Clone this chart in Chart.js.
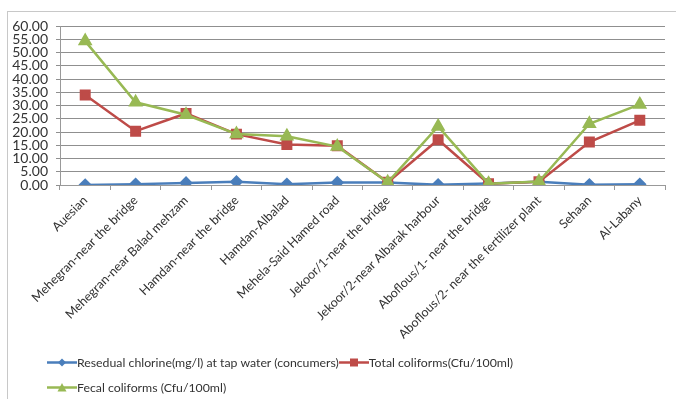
<!DOCTYPE html>
<html>
<head>
<meta charset="utf-8">
<script src="https://cdn.jsdelivr.net/npm/chart.js@4.4.1/dist/chart.umd.min.js"></script>
<style>
  body { margin: 0; background: #fff; }
  #wrap { position: relative; width: 676px; height: 399px; overflow: hidden; }
  #frame { position: absolute; left: 7px; top: 11px; width: 700px; height: 400px;
           border-left: 1px solid #c8c8c8; border-top: 1px solid #c8c8c8; }
  #chart { position: absolute; left: 0; top: 0; }
  #legend { position: absolute; left: 47px; top: 350px; width: 520px;
            font: 12.3px Lato, sans-serif; color: #333; }
  .item { display: inline-flex; align-items: center; height: 25px; white-space: nowrap; }
  .key { width: 30px; height: 11px; }
</style>
</head>
<body>
<div id="wrap">
  <div id="frame"></div>
  <canvas id="chart" width="676" height="399"></canvas>
  <div id="legend"></div>
</div>
<script>
const sites = [
  'Auesian', 'Mehegran-near the bridge', 'Mehegran-near Balad mehzam',
  'Hamdan-near the bridge', 'Hamdan-Albalad', 'Mehela-Said Hamed road',
  'Jekoor/1-near the bridge', 'Jekoor/2-near Albarak harbour',
  'Aboflous/1- near the bridge', 'Aboflous/2- near the fertilizer plant',
  'Sehaan', 'Al-Labany'
];
const chlorine = [0.0, 0.3, 0.8, 1.2, 0.3, 0.9, 0.9, 0.1, 0.6, 1.2, 0.1, 0.3];
const totalColiforms = [34.0, 20.3, 27.0, 19.2, 15.3, 14.8, 1.0, 17.1, 0.5, 1.2, 16.2, 24.4];
const fecalColiforms = [54.3, 31.2, 26.5, 19.2, 18.4, 14.5, 1.0, 22.1, 0.5, 1.3, 23.1, 30.4];
const seriesNames = [
  'Resedual chlorine(mg/l) at tap water (concumers)',
  'Total coliforms(Cfu/100ml)',
  'Fecal coliforms (Cfu/100ml)'
];

const blue = '#4a7ebb', red = '#be4b48', green = '#98b954';

const ctx = document.getElementById('chart').getContext('2d');
const chart = new Chart(ctx, {
  type: 'line',
  data: {
    labels: sites,
    datasets: [
      { label: seriesNames[0], data: chlorine, borderColor: blue, backgroundColor: blue,
        pointStyle: 'rectRot', pointRadius: 5, borderWidth: 2.5, order: 3 },
      { label: seriesNames[1], data: totalColiforms, borderColor: red, backgroundColor: red,
        pointStyle: 'rect', pointRadius: 6, borderWidth: 2.5, order: 2 },
      { label: seriesNames[2], data: fecalColiforms, borderColor: green, backgroundColor: green,
        pointStyle: 'triangle', pointRadius: 6, borderWidth: 2.5, order: 1 }
    ]
  },
  options: {
    responsive: false,
    animation: false,
    layout: { padding: { top: 26, right: 11, left: 0, bottom: 0 } },
    plugins: { legend: { display: false }, tooltip: { enabled: false } },
    elements: { line: { tension: 0 }, point: { borderWidth: 1 } },
    scales: {
      x: {
        offset: true,
        afterFit: (s) => { s.height = 214; },
        grid: { offset: true, drawOnChartArea: false, tickLength: 5, color: '#999' },
        border: { color: '#999' },
        ticks: { maxRotation: 45, minRotation: 45, autoSkip: false, padding: 3,
                 color: '#333', font: { family: 'Lato', size: 12.5 } }
      },
      y: {
        min: 0, max: 60,
        afterFit: (s) => { s.width = 60; },
        grid: { color: '#8f8f8f', tickLength: 4, lineWidth: 1 },
        border: { color: '#999' },
        ticks: { stepSize: 5, autoSkip: false, padding: 8, color: '#333',
                 font: { family: 'Lato', size: 14 },
                 callback: (v) => v.toFixed(2) }
      }
    }
  }
});

// legend in the Excel layout: two items on the first row, one on the second
const legend = document.getElementById('legend');
const markers = ['diamond', 'square', 'triangle'];
chart.data.datasets.forEach((ds, i) => {
  const item = document.createElement('span');
  item.className = 'item';
  const key = document.createElement('canvas');
  key.width = 30; key.height = 11; key.className = 'key';
  const k = key.getContext('2d');
  k.strokeStyle = ds.borderColor; k.fillStyle = ds.borderColor; k.lineWidth = 2.5;
  k.beginPath(); k.moveTo(0, 5.5); k.lineTo(30, 5.5); k.stroke();
  k.beginPath();
  if (markers[i] === 'diamond') { k.moveTo(15, 1.5); k.lineTo(19, 5.5); k.lineTo(15, 9.5); k.lineTo(11, 5.5); }
  else if (markers[i] === 'square') { k.rect(11, 1.5, 8, 8); }
  else { k.moveTo(15, 1); k.lineTo(19.5, 9.5); k.lineTo(10.5, 9.5); }
  k.closePath(); k.fill();
  item.appendChild(key);
  item.appendChild(document.createTextNode(ds.label));
  legend.appendChild(item);
  if (i === 1) legend.appendChild(document.createElement('br'));
});
</script>
</body>
</html>
